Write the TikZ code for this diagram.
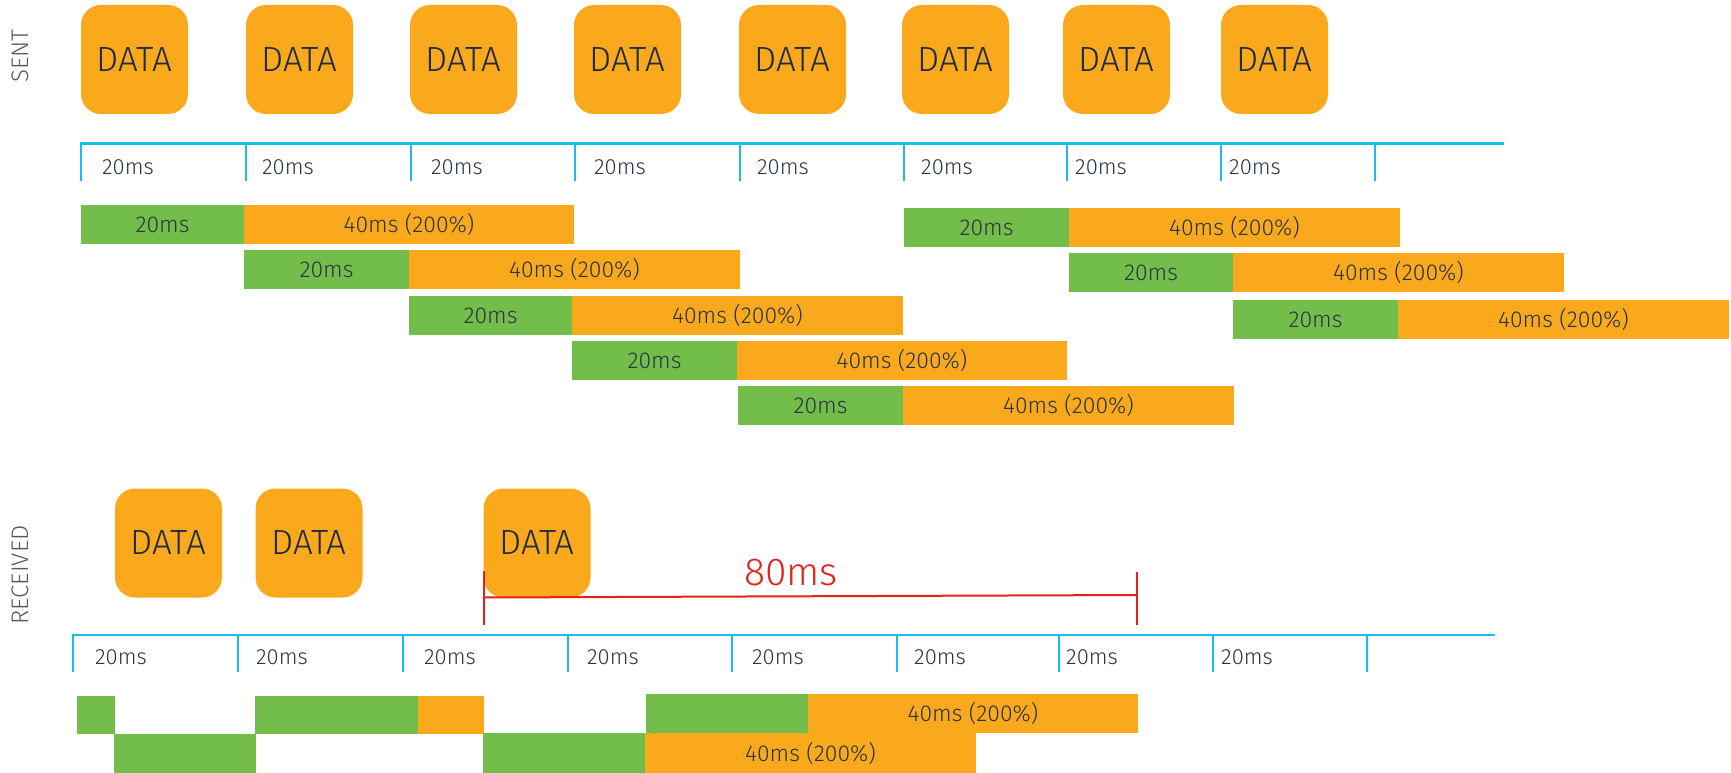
\documentclass[tikz,border=0pt]{standalone}
\usepackage{fontspec}
\setmainfont{Fira Sans Light}
\definecolor{dorange}{HTML}{F9A91B}
\definecolor{dgreen}{HTML}{73BE4B}
\definecolor{tline}{HTML}{19BDEA}
\definecolor{mred}{HTML}{E2231A}
\definecolor{txt}{HTML}{2A3445}
\definecolor{dtxt}{HTML}{1E2B45}
\definecolor{lbl}{HTML}{555B63}
\newcommand{\rbar}[7]{\node[#6, minimum width={#4-#2}, minimum height={#5-#3}] (#1) at ({(#2+#4)/2},{(#3+#5)/2}) {#7};}
\begin{document}
\begin{tikzpicture}[x=1pt,y=-1pt,
 databox/.style={fill=dorange, rounded corners=20pt, minimum width=107pt, minimum height=109pt, inner sep=0pt, text=dtxt, font=\fontsize{35}{38}\selectfont},
 barbox/.style={inner sep=0pt, outer sep=0pt, text=txt, font=\fontsize{23}{26}\selectfont},
 gb/.style={barbox, fill=dgreen},
 ob/.style={barbox, fill=dorange},
 tickline/.style={draw=tline, line width=2pt},
 axisline/.style={draw=tline, line width=2.5pt},
 tlabel/.style={anchor=west, inner sep=0pt, text=txt, font=\fontsize{22}{24}\selectfont},
 side/.style={rotate=90, text=lbl, font=\fontsize{24}{26}\selectfont, inner sep=0pt},
 redline/.style={draw=mred, line width=2pt},
]
\useasboundingbox (0,0) rectangle (1731,773);

% side labels
\node[side] (sent) at (20,56) {SENT};
\node[side] (received) at (20,575) {RECEIVED};

% sent DATA boxes
\foreach \x [count=\i] in {81,246,410,574,739,902,1063,1221}
  \node[databox] (sd\i) at (\x+53.5,59.5) {DATA};

% sent timeline
\coordinate (sa) at (80,143.5);
\coordinate (sz) at (1504,143.5);
\draw[axisline] (sa) -- (sz);
\foreach \x [count=\i] in {81,246,411,575,740,904,1067,1221,1375}{
  \coordinate (stt\i) at (\x,143);
  \coordinate (stb\i) at (\x,181);
  \draw[tickline] (stt\i) -- (stb\i);
}
\foreach \x [count=\i] in {102,262,431,594,757,921,1075,1229}
  \node[tlabel] (sl\i) at (\x,167) {20ms};

% sent bars (left group)
\rbar{g1}{81}{205}{244}{244}{gb}{20ms}
\rbar{o1}{244}{205}{574}{244}{ob}{40ms (200\%)}
\rbar{g2}{244}{250}{409}{289}{gb}{20ms}
\rbar{o2}{409}{250}{740}{289}{ob}{40ms (200\%)}
\rbar{g3}{409}{296}{572}{335}{gb}{20ms}
\rbar{o3}{572}{296}{903}{335}{ob}{40ms (200\%)}
\rbar{g4}{572}{341}{737}{380}{gb}{20ms}
\rbar{o4}{737}{341}{1067}{380}{ob}{40ms (200\%)}
\rbar{g5}{738}{386}{903}{425}{gb}{20ms}
\rbar{o5}{903}{386}{1234}{425}{ob}{40ms (200\%)}
% sent bars (right group)
\rbar{g6}{904}{208}{1069}{247}{gb}{20ms}
\rbar{o6}{1069}{208}{1400}{247}{ob}{40ms (200\%)}
\rbar{g7}{1069}{253}{1233}{292}{gb}{20ms}
\rbar{o7}{1233}{253}{1564}{292}{ob}{40ms (200\%)}
\rbar{g8}{1233}{300}{1398}{339}{gb}{20ms}
\rbar{o8}{1398}{300}{1729}{339}{ob}{40ms (200\%)}

% received DATA boxes
\node[databox] (rd1) at (168.5,543) {DATA};
\node[databox] (rd2) at (309,543) {DATA};
\node[databox] (rd3) at (537,543) {DATA};

% received timeline
\coordinate (ra) at (72,635);
\coordinate (rz) at (1495,635);
\draw[axisline] (ra) -- (rz);
\foreach \x [count=\i] in {73,238,403,567.5,732,897,1059,1213,1367}{
  \coordinate (rtt\i) at (\x,635);
  \coordinate (rtb\i) at (\x,672);
  \draw[tickline] (rtt\i) -- (rtb\i);
}
\foreach \x [count=\i] in {95,256,424,587,752,914,1066,1221}
  \node[tlabel] (rl\i) at (\x,657) {20ms};

% 80ms measurement
\coordinate (m1t) at (483.5,571);
\coordinate (m1b) at (483.5,625);
\coordinate (m1m) at (483.5,597.5);
\coordinate (m2t) at (1137,571.5);
\coordinate (m2b) at (1137,625);
\coordinate (m2m) at (1137,595);
\draw[redline] (m1t) -- (m1b);
\draw[redline] (m2t) -- (m2b);
\draw[redline] (m1m) -- (m2m);
\node[anchor=base, inner sep=0pt, text=mred, font=\fontsize{39}{42}\selectfont] (meas) at (791,585) {80ms};

% received bars
\rbar{ra1}{77}{696}{115}{734}{gb}{}
\rbar{ra2}{255}{696}{417.5}{734}{gb}{}
\rbar{ra3}{417.5}{696}{484}{734}{ob}{}
\rbar{ra4}{646}{694}{808}{733}{gb}{}
\rbar{ra5}{808}{694}{1138}{733}{ob}{40ms (200\%)}
\rbar{rb1}{113.5}{734}{255.5}{773}{gb}{}
\rbar{rb2}{483}{733}{645}{773}{gb}{}
\rbar{rb3}{645}{733}{976}{773}{ob}{40ms (200\%)}
\end{tikzpicture}
\end{document}
